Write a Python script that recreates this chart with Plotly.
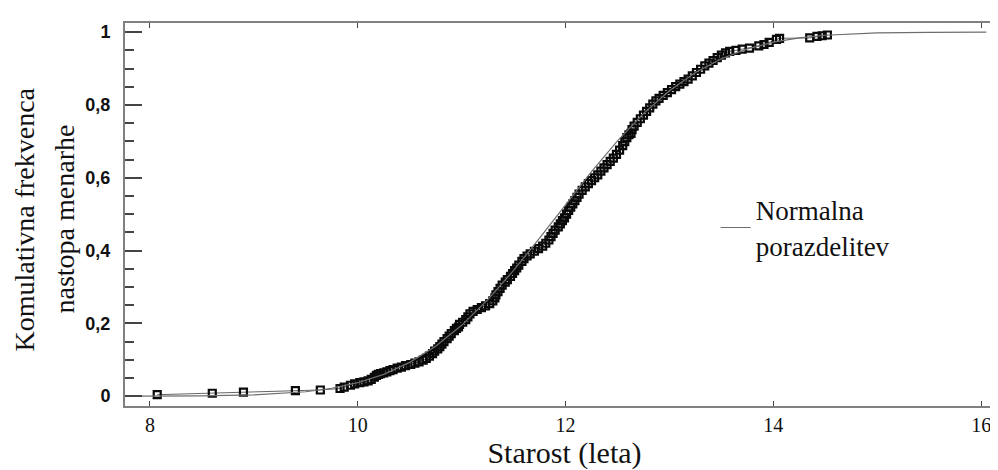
"""
Kumulativna frekvenca nastopa menarhe vs. normalna porazdelitev
"""

import plotly.graph_objects as go

# empirical cumulative frequency (age in years, cumulative share)
age = [8.07, 8.60, 8.90, 9.40, 9.64, 9.83, 9.87, 9.93, 9.97, 10.02, 10.06, 10.10,
       10.13, 10.16, 10.18, 10.20, 10.22, 10.25, 10.28, 10.31, 10.34, 10.38, 10.42,
       10.46, 10.51, 10.55, 10.59, 10.63, 10.66, 10.69, 10.72, 10.74, 10.77, 10.79,
       10.81, 10.83, 10.86, 10.88, 10.90, 10.93, 10.95, 10.97, 10.98, 11.01, 11.04,
       11.06, 11.08, 11.11, 11.15, 11.19, 11.23, 11.27, 11.30, 11.32, 11.33, 11.35,
       11.37, 11.39, 11.42, 11.44, 11.47, 11.49, 11.51, 11.53, 11.55, 11.58, 11.60,
       11.63, 11.66, 11.70, 11.74, 11.78, 11.81, 11.84, 11.86, 11.88, 11.90, 11.93,
       11.95, 11.97, 11.99, 12.01, 12.03, 12.05, 12.07, 12.09, 12.11, 12.13, 12.16,
       12.19, 12.22, 12.25, 12.28, 12.31, 12.34, 12.37, 12.40, 12.43, 12.46, 12.49,
       12.52, 12.55, 12.57, 12.59, 12.61, 12.63, 12.64, 12.66, 12.69, 12.72, 12.75,
       12.78, 12.81, 12.84, 12.87, 12.90, 12.94, 12.98, 13.02, 13.06, 13.10, 13.14,
       13.18, 13.22, 13.26, 13.30, 13.34, 13.38, 13.42, 13.46, 13.50, 13.54, 13.58,
       13.64, 13.70, 13.77, 13.86, 13.91, 13.96, 14.03, 14.06, 14.35, 14.42, 14.47,
       14.52]
cum_freq = [0.004, 0.008, 0.011, 0.015, 0.017, 0.021, 0.025, 0.030, 0.034, 0.037, 0.039,
            0.042, 0.046, 0.052, 0.057, 0.060, 0.062, 0.064, 0.067, 0.070, 0.073, 0.077,
            0.080, 0.084, 0.087, 0.091, 0.094, 0.099, 0.104, 0.110, 0.117, 0.124, 0.130,
            0.136, 0.143, 0.150, 0.158, 0.165, 0.172, 0.180, 0.186, 0.190, 0.197, 0.203,
            0.210, 0.218, 0.226, 0.233, 0.238, 0.243, 0.248, 0.254, 0.262, 0.270, 0.278,
            0.287, 0.296, 0.305, 0.313, 0.320, 0.329, 0.337, 0.345, 0.352, 0.360, 0.370,
            0.378, 0.385, 0.391, 0.398, 0.405, 0.412, 0.420, 0.429, 0.438, 0.447, 0.456,
            0.465, 0.473, 0.482, 0.490, 0.500, 0.510, 0.519, 0.528, 0.537, 0.546, 0.555,
            0.565, 0.575, 0.584, 0.592, 0.600, 0.608, 0.618, 0.627, 0.636, 0.645, 0.654,
            0.664, 0.676, 0.688, 0.699, 0.710, 0.718, 0.722, 0.732, 0.742, 0.752, 0.762,
            0.772, 0.782, 0.792, 0.802, 0.811, 0.818, 0.826, 0.834, 0.842, 0.850, 0.857,
            0.864, 0.871, 0.880, 0.889, 0.898, 0.907, 0.915, 0.922, 0.930, 0.937, 0.943,
            0.947, 0.950, 0.953, 0.956, 0.962, 0.966, 0.972, 0.980, 0.983, 0.984, 0.988,
            0.990, 0.992]

# fitted normal distribution curve
norm_x = [7.9, 8.0, 8.5, 9.0, 9.5, 9.75, 10.0, 10.25, 10.5, 10.75, 11.0, 11.25, 11.5,
          11.75, 12.0, 12.25, 12.5, 12.75, 13.0, 13.25, 13.5, 13.75, 14.0, 14.25, 14.5,
          15.0, 15.5, 16.05]
norm_y = [0.0001, 0.0001, 0.0008, 0.0033, 0.0122, 0.0218, 0.0370, 0.0599, 0.0928, 0.1373,
          0.1946, 0.2644, 0.3453, 0.4338, 0.5259, 0.6165, 0.7012, 0.7762, 0.8391, 0.8892,
          0.9270, 0.9540, 0.9724, 0.9841, 0.9913, 0.9978, 0.9995, 0.9999]

x_ticks = [8, 10, 12, 14, 16]
x_labels = ["8", "10", "12", "14", "16"]
y_ticks = [0, 0.2, 0.4, 0.6, 0.8, 1]
y_labels = ["0", "0,2", "0,4", "0,6", "0,8", "1"]
y_title = ["Komulativna frekvenca", "nastopa menarhe"]

serif = "Liberation Serif, Times New Roman, serif"
sans = "Liberation Sans, Arial, sans-serif"
Y_RANGE = [-0.027, 1.025]

fig = go.Figure()

# normal curve lives on the right-hand overlay axis (gives the short right ticks)
fig.add_trace(go.Scatter(
    x=norm_x, y=norm_y, mode="lines", yaxis="y2",
    line=dict(color="#6e6e6e", width=1.2),
    name="Normalna<br>porazdelitev"
))

fig.add_trace(go.Scatter(
    x=age, y=cum_freq, mode="lines+markers",
    line=dict(color="#666666", width=1),
    marker=dict(symbol="square-open", size=7, color="#0a0a0a", line=dict(width=2.2)),
    showlegend=False
))

fig.update_layout(
    width=998, height=470,
    margin=dict(l=117, r=2, t=15, b=72),
    plot_bgcolor="white", paper_bgcolor="white",
    showlegend=True,
    legend=dict(x=0.672, y=0.465, xanchor="left", yanchor="middle",
                bgcolor="rgba(0,0,0,0)", font=dict(family=serif, size=27, color="#111"),
                itemwidth=30, tracegroupgap=0),
    yaxis2=dict(
        overlaying="y", side="right", range=Y_RANGE, tickvals=y_ticks,
        showticklabels=False, ticks="inside", ticklen=7, tickcolor="#555",
        minor=dict(dtick=0.05, ticks="inside", ticklen=4, tickcolor="#555", showgrid=False),
        showgrid=False, zeroline=False, showline=True, linecolor="#808080", linewidth=2,
    ),
)

fig.update_xaxes(
    range=[7.76, 16.22], tickvals=x_ticks, ticktext=x_labels,
    ticks="inside", ticklen=5, tickcolor="#444", showgrid=False, zeroline=False,
    showline=True, linecolor="#808080", linewidth=2, mirror="ticks",
    tickfont=dict(family=serif, size=20, color="#111"),
    title=dict(text="Starost (leta)", font=dict(family=serif, size=30, color="#111"), standoff=1),
)

fig.update_yaxes(
    selector=dict(overlaying=None),
    range=Y_RANGE, tickvals=y_ticks, ticktext=y_labels,
    ticks="inside", ticklen=17, tickcolor="#444", tickwidth=1.5, showgrid=False, zeroline=False,
    showline=True, linecolor="#808080", linewidth=2,
    minor=dict(dtick=0.05, ticks="inside", ticklen=9, tickcolor="#444", showgrid=False),
    ticklabelstandoff=9,
    tickfont=dict(family=sans, size=18, color="#111", weight="bold"),
)

# two-line y title, drawn as separate lines to get the wide line spacing
for text, shift in zip(y_title, [-101, -61]):
    fig.add_annotation(
        text=text, xref="paper", yref="paper", x=0, y=0.5,
        xanchor="center", yanchor="middle", xshift=shift, yshift=-5,
        textangle=-90, showarrow=False,
        font=dict(family=serif, size=28, color="#111"),
    )

fig.write_html("out.html")
